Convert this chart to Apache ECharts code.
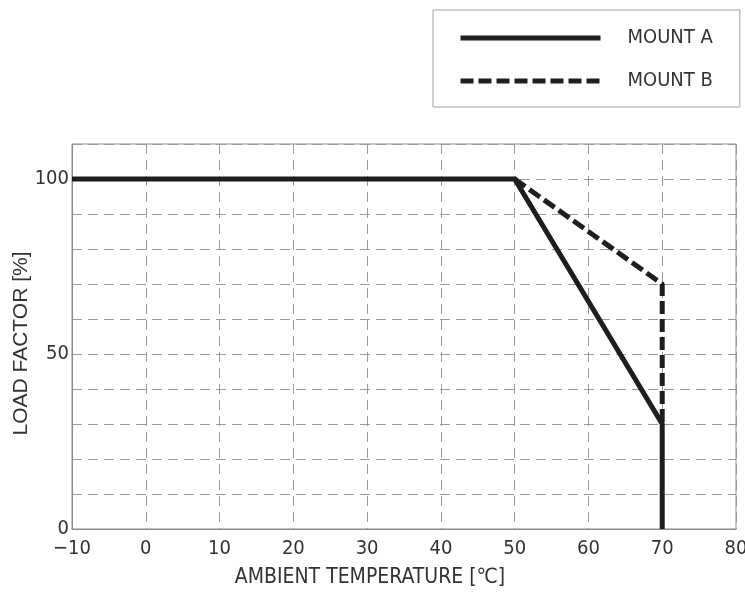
<!DOCTYPE html>
<html>
<head>
<meta charset="utf-8">
<script src="https://cdn.jsdelivr.net/npm/echarts@6/dist/echarts.min.js"></script>
<style>html,body{margin:0;padding:0;background:#fff}#c{width:745px;height:594px}</style>
</head>
<body>
<div id="c"></div>
<script>
const seriesNames = ['MOUNT A', 'MOUNT B'];
const mountA = [[-10, 100], [50, 100], [70, 30], [70, 0]];
const mountB = [[50, 100], [70, 70], [70, 30]];
const yTickLabels = [0, 50, 100];
const xTitle = 'AMBIENT TEMPERATURE [℃]';
const yTitle = 'LOAD FACTOR [%]';

const narrow = '"Liberation Sans Narrow", "DejaVu Sans Condensed", "Liberation Sans", sans-serif';
const chart = echarts.init(document.getElementById('c'));
chart.setOption({
  backgroundColor: '#fff',
  animation: false,
  grid: { left: 72, right: 9, top: 144, bottom: 65, show: true, borderColor: '#8a8a8a', borderWidth: 1,
          containLabel: false, outerBoundsMode: 'none' },
  legend: {
    orient: 'vertical', left: 433, top: 10,
    data: seriesNames,
    borderColor: '#a0a0a0', borderWidth: 1,
    padding: [18, 27, 16, 25],
    itemWidth: 140, itemHeight: 14, itemGap: 23,
    lineStyle: { width: 5 },
    itemStyle: { opacity: 0 },
    textStyle: { fontFamily: narrow, fontSize: 20, color: '#333', padding: [0, 0, 0, 22] }
  },
  xAxis: {
    type: 'value', min: -10, max: 80, interval: 10,
    name: xTitle, nameLocation: 'middle', nameGap: 38, nameMoveOverlap: false,
    nameTextStyle: { fontFamily: narrow, fontSize: 21, color: '#333', padding: [0, 68, 0, 0] },
    axisLine: { show: true, onZero: false, lineStyle: { color: '#8a8a8a' } },
    axisTick: { show: false },
    axisLabel: { fontFamily: narrow, fontSize: 20, color: '#333', margin: 10,
      formatter: v => String(v).replace('-', '−') },
    splitLine: { show: true, lineStyle: { color: '#9a9a9a', type: [10, 6], width: 1 } }
  },
  yAxis: {
    type: 'value', min: 0, max: 110, interval: 10,
    name: yTitle, nameLocation: 'middle', nameGap: 40, nameMoveOverlap: false,
    nameTextStyle: { fontFamily: '"Liberation Sans", Arial, sans-serif', fontSize: 21, color: '#333', padding: [0, 14, 0, 0] },
    axisLine: { show: true, onZero: false, lineStyle: { color: '#8a8a8a' } },
    axisTick: { show: false },
    axisLabel: {
      fontFamily: narrow, fontSize: 20, color: '#333', margin: 3,
      formatter: v => yTickLabels.indexOf(v) >= 0 ? String(v) : ''
    },
    splitLine: { show: true, lineStyle: { color: '#9a9a9a', type: [10, 6], width: 1 } }
  },
  series: [
    { name: seriesNames[0], type: 'line', data: mountA, symbol: 'none', z: 3,
      lineStyle: { color: '#1e1e1e', width: 5, join: 'miter' }, itemStyle: { color: '#1e1e1e' } },
    { name: seriesNames[1], type: 'line', data: mountB, symbol: 'none', z: 2,
      lineStyle: { color: '#1e1e1e', width: 5, type: [13, 5] }, itemStyle: { color: '#1e1e1e' } }
  ]
});
</script>
</body>
</html>
